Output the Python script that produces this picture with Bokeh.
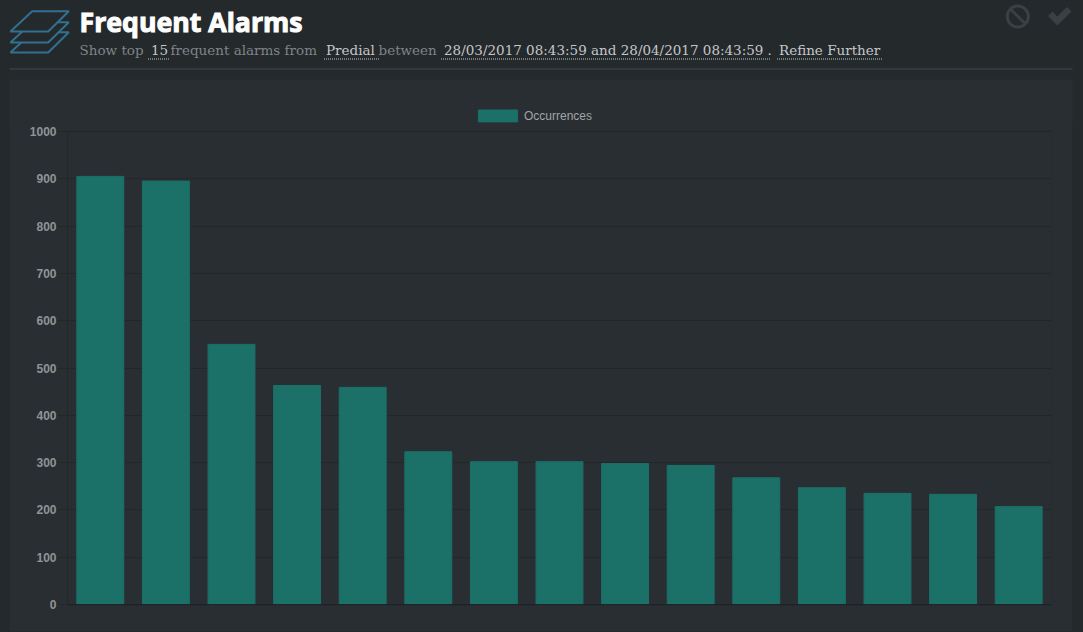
import numpy as np
from bokeh.core.properties import value
from bokeh.embed import file_html
from bokeh.models import (ColumnDataSource, FactorRange, FixedTicker, Grid, Legend, LegendItem,
                          LinearAxis, Range1d, Span)
from bokeh.plotting import figure
from bokeh.resources import INLINE

ranks = [str(i) for i in range(1, 16)]
occurrences = [905, 895, 550, 463, 459, 323, 302, 302, 298, 294, 268, 247, 235, 233, 207]
y_ticks = list(range(0, 1001, 100))

HEADER = "#24292c"
PANEL = "#292e32"
GRID = "#23272a"
TEAL = "#1b7068"

HW, HH = 1083, 123
h = figure(width=HW, height=HH, x_range=Range1d(0, HW), y_range=Range1d(HH, 0), x_axis_type=None,
           y_axis_type=None, output_backend="svg", toolbar_location=None, min_border=0,
           background_fill_color=HEADER, border_fill_color=HEADER, outline_line_color=None)
h.xgrid.visible = False
h.ygrid.visible = False
h.quad(left=[9], right=[1072], top=[79], bottom=[HH], fill_color=PANEL, line_alpha=0)


def text(x, y, s, color, font="DejaVu Serif", size="13.5px", style="normal", outline=None):
    h.text([x], [y], text=[s], text_color=color, text_font=value(font), text_font_size=size,
           text_font_style=style, text_baseline="middle", text_align="left", outline_color=outline)


MUTED, BRIGHT = "#7f8488", "#c4c7c9"
text(79, 20.5, "Frequent Alarms", "#ffffff", "Open Sans", "26.7px", "bold", "#ffffff")
text(79, 49.5, "Show top", MUTED)
text(150.5, 49.5, "15", BRIGHT)
text(170, 49.5, "frequent alarms from", MUTED)
text(325.5, 49.5, "Predial", BRIGHT)
text(378, 49.5, "between", MUTED)
text(443.5, 49.5, "28/03/2017 08:43:59 and 28/04/2017 08:43:59", BRIGHT)
text(767, 49.5, ".", BRIGHT)
text(778.5, 49.5, "Refine Further", BRIGHT)
for x0, x1 in [(147, 169), (323, 378), (440, 769), (776, 881)]:
    h.line([x0 + 0.5, x1 + 0.5], [58.5, 58.5], line_color=BRIGHT, line_width=1, line_dash="1 1")
h.line([9, 1072], [68.5, 68.5], line_color="#3f4a50", line_width=1)

for dy in (21, 11, 0):
    h.patch([31.7, 68.3, 47.7, 10], [10.7 + dy, 10.7 + dy, 31 + dy, 31 + dy], fill_color=HEADER,
            line_color="#32708f", line_width=2)

ICON = "#3a4046"
t = np.linspace(0, 2 * np.pi, 60)
h.line(1017.3 + 10.5 * np.cos(t), 16 + 10.5 * np.sin(t), line_color=ICON, line_width=3)
h.line([1010, 1025], [8.5, 23.5], line_color=ICON, line_width=3)
h.patch([1047.5, 1052, 1056.7, 1066.5, 1071, 1056.7], [15.5, 11, 16, 6.5, 11, 25], fill_color=ICON, line_alpha=0)

key = h.quad(left=[-60], right=[-50], top=[0], bottom=[10], fill_color=TEAL, line_color=TEAL)
legend = Legend(items=[LegendItem(label=value("Occurrences"), renderers=[key])], location=(473, 0),
                orientation="horizontal", glyph_width=49, glyph_height=15, label_text_font="Liberation Sans",
                label_text_font_size="12px", label_text_color="#a0a4a7", background_fill_alpha=0,
                border_line_alpha=0, padding=0, margin=0, label_standoff=2, label_height=12)
h.add_layout(legend, "center")

p = figure(width=1063, height=632 - HH, x_range=FactorRange(factors=ranks, range_padding=0),
           y_range=Range1d(-2, 1002), x_axis_type=None, y_axis_type=None,
           output_backend="svg", toolbar_location=None, margin=(-1, 0, 0, 9),
           min_border_left=58, min_border_right=21, min_border_top=8, min_border_bottom=26,
           border_fill_color=PANEL, background_fill_color=PANEL, outline_line_color=None)

src = ColumnDataSource(dict(x=ranks, y=occurrences))
p.vbar(x="x", top="y", bottom=0, width=0.715, source=src, fill_color=TEAL, line_color=TEAL)

yax = LinearAxis(ticker=FixedTicker(ticks=y_ticks), major_tick_out=10, major_tick_in=0, minor_tick_out=0,
                 axis_line_color=GRID, major_tick_line_color=GRID,
                 major_label_text_color="#8f9497", major_label_text_font="Liberation Sans",
                 major_label_text_font_size="12px", major_label_text_font_style="bold",
                 major_label_standoff=1)
p.add_layout(yax, "left")
p.add_layout(Grid(dimension=1, ticker=yax.ticker, grid_line_color=GRID))
p.add_layout(Span(location=0, dimension="width", line_color="#1f2326", line_width=1))

html = file_html([h, p], INLINE)
css = f"html,body{{margin:0;padding:0;background:{HEADER};overflow:hidden}}"
html = html.replace("</head>", f"<style>{css}</style></head>", 1)
open("out.html", "w").write(html)
